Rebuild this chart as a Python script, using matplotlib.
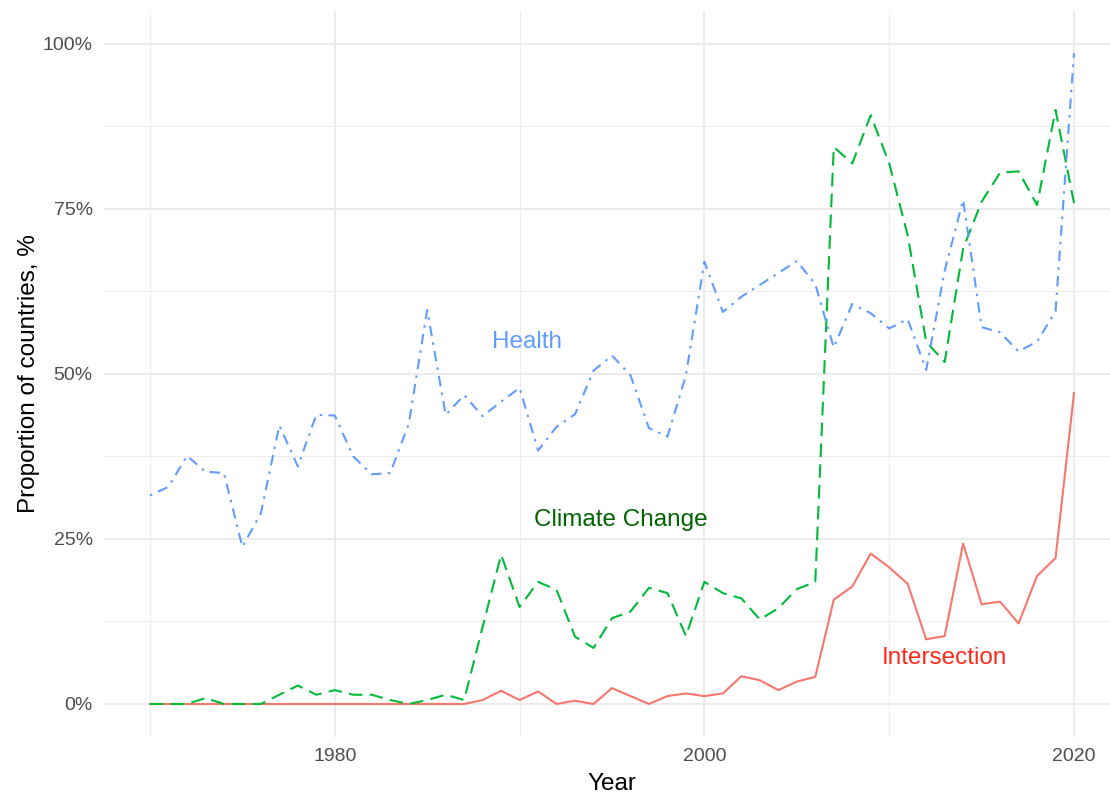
import matplotlib.pyplot as plt
from matplotlib.ticker import FixedLocator, FuncFormatter

plt.rcParams['font.family'] = ['Liberation Sans', 'DejaVu Sans']

# Data (share of countries, %)
years = list(range(1970, 2021))
health = [31.6, 32.9, 37.6, 35.2, 35.0, 23.8, 28.9, 42.2, 36.0, 43.8,
          43.7, 37.5, 34.8, 35.0, 42.4, 59.7, 43.8, 46.8, 43.6, 45.8,
          47.9, 38.4, 42.0, 43.9, 50.5, 52.8, 49.8, 41.8, 40.5, 49.8,
          67.0, 59.4, 61.7, 63.5, 65.3, 67.1, 63.6, 54.0, 60.6, 59.2,
          56.9, 58.3, 50.6, 65.6, 76.4, 57.1, 56.3, 53.4, 54.9, 59.5,
          98.6]
climate = [0.0, 0.0, 0.0, 0.9, 0.0, 0.0, 0.0, 1.4, 2.8, 1.4,
           2.1, 1.4, 1.4, 0.6, 0.0, 0.6, 1.4, 0.6, 11.7, 22.6,
           14.7, 18.5, 17.3, 10.2, 8.5, 13.0, 14.0, 17.6, 16.8, 10.3,
           18.5, 16.8, 16.0, 12.8, 14.5, 17.4, 18.5, 84.4, 81.9, 89.2,
           81.9, 71.0, 54.9, 51.8, 69.0, 76.1, 80.5, 80.7, 75.6, 90.0,
           75.9]
intersection = [0.0, 0.0, 0.0, 0.0, 0.0, 0.0, 0.0, 0.0, 0.0, 0.0,
                0.0, 0.0, 0.0, 0.0, 0.0, 0.0, 0.0, 0.0, 0.6, 2.0,
                0.6, 1.9, 0.0, 0.5, 0.0, 2.4, 1.2, 0.0, 1.2, 1.6,
                1.2, 1.6, 4.2, 3.6, 2.1, 3.4, 4.1, 15.8, 17.8, 22.8,
                20.7, 18.2, 9.8, 10.3, 24.3, 15.1, 15.5, 12.2, 19.4, 22.1,
                47.1]

fig = plt.figure(figsize=(11.1, 7.94), dpi=100)
ax = fig.add_axes([0.0935, 0.0718, 0.9157, 0.9144])

# ggplot-like colours
ax.plot(years, intersection, color='#F8766D', lw=1.5, linestyle='-')
ax.plot(years, climate, color='#00BA38', lw=1.5, linestyle=(0, (6.5, 3.5)))
ax.plot(years, health, color='#619CFF', lw=1.5, linestyle=(0, (1.2, 3, 5, 3)))

ax.text(1990.4, 54.8, 'Health', color='#619CFF', fontsize=17.5, ha='center', va='center')
ax.text(1995.45, 27.9, 'Climate Change', color='#006400', fontsize=17.5, ha='center', va='center')
ax.text(2013.0, 6.9, 'Intersection', color='#FF2A1A', fontsize=17.5, ha='center', va='center')

ax.set_xlim(1967.5, 2022.5)
ax.set_ylim(-5, 105)

ax.xaxis.set_major_locator(FixedLocator([1980, 2000, 2020]))
ax.xaxis.set_minor_locator(FixedLocator([1970, 1990, 2010]))
ax.yaxis.set_major_locator(FixedLocator([0, 25, 50, 75, 100]))
ax.yaxis.set_minor_locator(FixedLocator([12.5, 37.5, 62.5, 87.5]))
ax.yaxis.set_major_formatter(FuncFormatter(lambda v, p: f'{v:.0f}%'))

ax.grid(which='major', color='#EBEBEB', lw=1.5)
ax.grid(which='minor', color='#EDEDED', lw=0.8)
ax.set_axisbelow(True)
for s in ax.spines.values():
    s.set_visible(False)
ax.tick_params(which='both', length=0, labelsize=14, labelcolor='#4D4D4D')
ax.tick_params(axis='x', pad=8)
ax.tick_params(axis='y', pad=8)

ax.set_xlabel('Year', fontsize=17.5, labelpad=6)
ax.set_ylabel('Proportion of countries, %', fontsize=17.5, labelpad=2)

fig.savefig('out.png', dpi=100)
